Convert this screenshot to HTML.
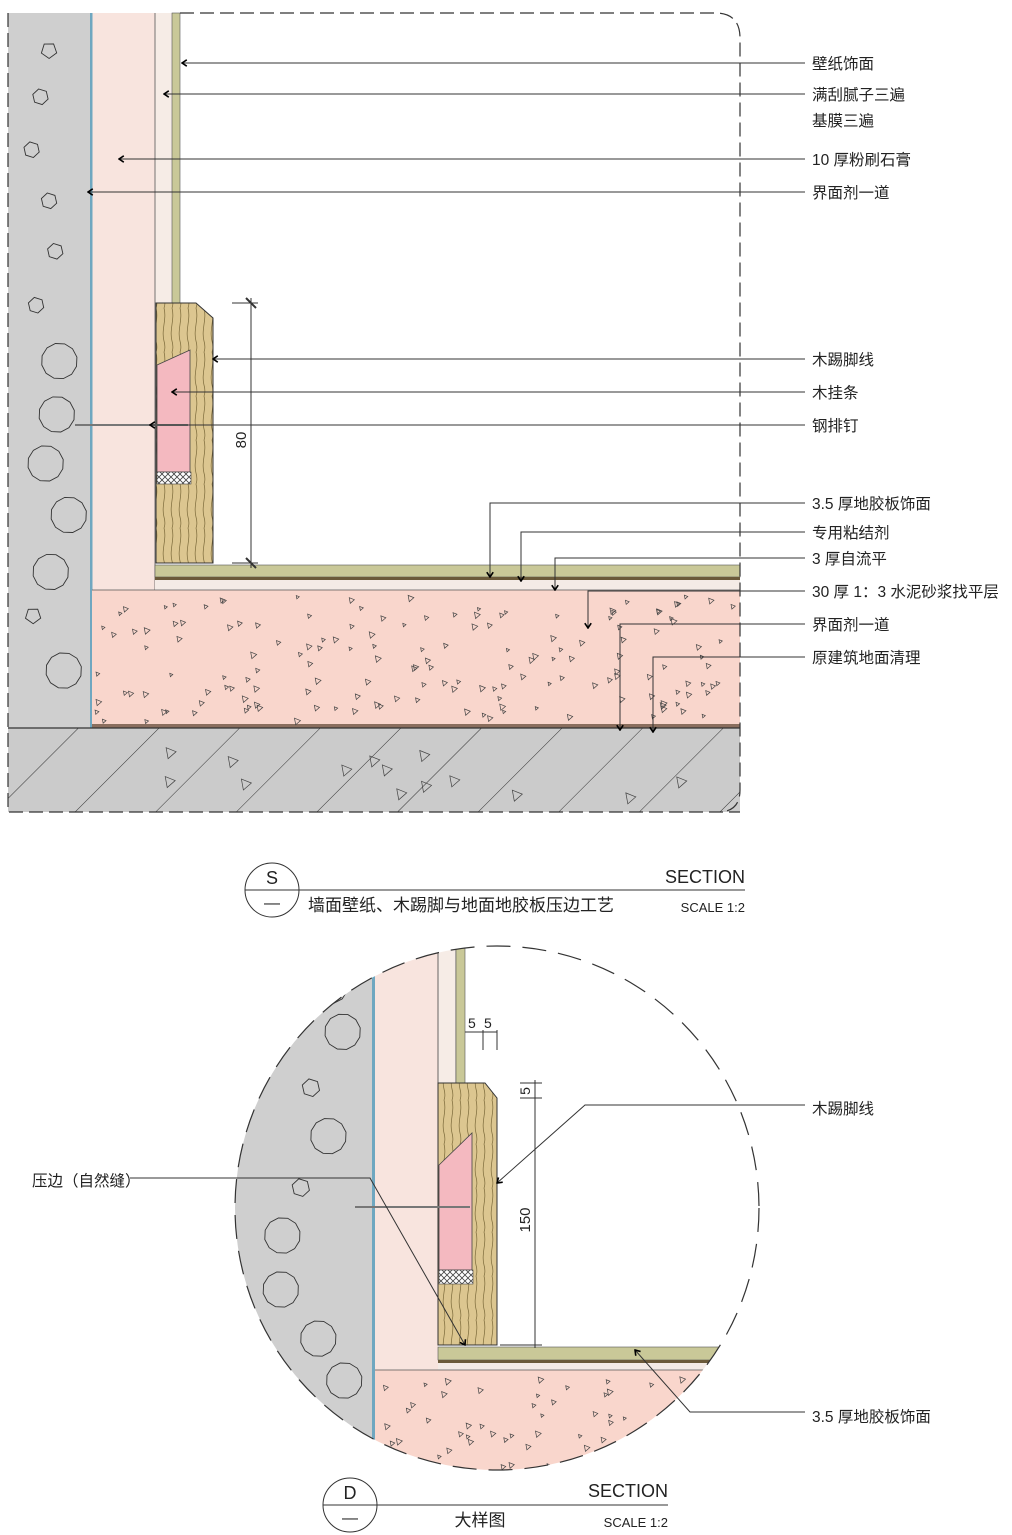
<!DOCTYPE html>
<html><head><meta charset="utf-8"><style>
html,body{margin:0;padding:0;background:#fff}
svg{display:block}
text{font-family:"Liberation Sans","Noto Sans CJK SC",sans-serif;fill:#222}
</style></head><body>
<svg id="s" width="1012" height="1535" viewBox="0 0 1012 1535" xmlns="http://www.w3.org/2000/svg">
<defs>
<pattern id="hatch" width="57" height="57" patternUnits="userSpaceOnUse" patternTransform="rotate(45)">
<rect width="57" height="57" fill="#cbcbcb"/><line x1="0" y1="0" x2="0" y2="57" stroke="#333" stroke-width="1"/></pattern>
<pattern id="wood" width="16" height="44" patternUnits="userSpaceOnUse">
<rect width="16" height="44" fill="#dcc690"/>
<path d="M4 0 C7 11 1 22 4 33 C6 40 4 44 4 44 M12 0 C15 11 9 22 12 33 C14 40 12 44 12 44" stroke="#7a6838" stroke-width="0.7" fill="none"/></pattern>
<pattern id="xh" width="6" height="6" patternUnits="userSpaceOnUse">
<rect width="6" height="6" fill="#fff"/><path d="M0 0L6 6M6 0L0 6" stroke="#444" stroke-width="0.8"/></pattern>
<clipPath id="cc"><circle cx="497" cy="1208" r="262"/></clipPath>
<marker id="ar" viewBox="0 0 10 10" refX="9" refY="5" markerWidth="8" markerHeight="8" orient="auto" markerUnits="userSpaceOnUse"><path d="M3 1L9 5L3 9" stroke="#000" stroke-width="2" fill="none"/></marker>
</defs>

<g id="top">
<rect x="8" y="13" width="82" height="715" fill="#cfcfcf"/>
<rect x="8" y="728" width="732" height="84" fill="url(#hatch)"/>
<rect x="92" y="13" width="63" height="577" fill="#f8e4de"/>
<rect x="155" y="13" width="17" height="290" fill="#f6ece6"/>
<rect x="172" y="13" width="8" height="290" fill="#c9c898" stroke="#555" stroke-width="0.6"/>
<line x1="155" y1="13" x2="155" y2="590" stroke="#555" stroke-width="0.8"/>
<rect x="90" y="13" width="2.5" height="715" fill="#6fa7c0"/>
<path d="M156 303 L196 303 L213 318 L213 563 L156 563Z" fill="url(#wood)" stroke="#333" stroke-width="1"/>
<path d="M157 365 L190 350 L190 472 L157 472Z" fill="#f4b9c0" stroke="#444" stroke-width="0.8"/>
<rect x="157" y="472" width="34" height="12" fill="url(#xh)" stroke="#444" stroke-width="0.6"/>
<line x1="75" y1="425" x2="188" y2="425" stroke="#777" stroke-width="2"/>
<rect x="155" y="565" width="585" height="12" fill="#c9c898" stroke="#555" stroke-width="0.6"/>
<rect x="155" y="577" width="585" height="3" fill="#6b5a3a"/>
<rect x="155" y="580" width="585" height="10" fill="#f4ebe6"/>
<rect x="92" y="590" width="648" height="134" fill="#f9d6cc"/>
<line x1="92" y1="590" x2="740" y2="590" stroke="#555" stroke-width="0.8"/>
<rect x="92" y="724" width="648" height="4" fill="#8a6e5e"/>
<line x1="8" y1="728" x2="740" y2="728" stroke="#333" stroke-width="1.2"/>
<g id="agg1"></g>
<path d="M8 13 L8 812 L740 812 M180 13 L715 13 Q740 13 740 38 L740 790 Q740 812 718 812" fill="none" stroke="#333" stroke-width="1.2" stroke-dasharray="14 6"/>
<g stroke="#333" stroke-width="1"><line x1="251" y1="298" x2="251" y2="568"/><line x1="232" y1="303" x2="258" y2="303"/><line x1="232" y1="563" x2="258" y2="563"/>
<line x1="246" y1="298" x2="256" y2="308" stroke-width="2"/><line x1="246" y1="558" x2="256" y2="568" stroke-width="2"/></g>
<text x="0" y="0" font-size="15" transform="translate(246,440) rotate(-90)" text-anchor="middle">80</text>
<g stroke="#333" stroke-width="1" fill="none" marker-end="url(#ar)">
<path d="M805 63 H182"/><path d="M805 94 H164"/><path d="M805 159 H119"/><path d="M805 192 H88"/>
<path d="M805 359 H213"/><path d="M805 392 H172"/><path d="M805 425 H150"/>
<path d="M805 503 H490 V577"/><path d="M805 532 H521 V581"/><path d="M805 558 H555 V590"/>
<path d="M805 591 H588 V628"/><path d="M805 624 H620 V730"/><path d="M805 657 H653 V732"/>
</g>
<g font-size="15.5">
<text x="812" y="69">壁纸饰面</text><text x="812" y="100">满刮腻子三遍</text><text x="812" y="126">基膜三遍</text>
<text x="812" y="165">10 厚粉刷石膏</text><text x="812" y="198">界面剂一道</text>
<text x="812" y="365">木踢脚线</text><text x="812" y="398">木挂条</text><text x="812" y="431">钢排钉</text>
<text x="812" y="509">3.5 厚地胶板饰面</text><text x="812" y="538">专用粘结剂</text><text x="812" y="564">3 厚自流平</text>
<text x="812" y="597">30 厚 1：3 水泥砂浆找平层</text><text x="812" y="630">界面剂一道</text><text x="812" y="663">原建筑地面清理</text>
</g>
</g>

<circle cx="272" cy="890" r="27" fill="none" stroke="#333" stroke-width="1"/>
<line x1="245" y1="890" x2="745" y2="890" stroke="#333" stroke-width="1"/>
<text x="272" y="884" font-size="18" text-anchor="middle">S</text>
<text x="272" y="908" font-size="16" text-anchor="middle">—</text>
<text x="745" y="883" font-size="18" text-anchor="end">SECTION</text>
<text x="308" y="911" font-size="17">墙面壁纸、木踢脚与地面地胶板压边工艺</text>
<text x="745" y="912" font-size="13" text-anchor="end">SCALE 1:2</text>

<g clip-path="url(#cc)">
<rect x="200" y="940" width="172" height="540" fill="#cfcfcf"/>
<rect x="375" y="940" width="63" height="440" fill="#f8e4de"/>
<rect x="438" y="940" width="18" height="143" fill="#f6ece6" stroke="#444" stroke-width="0.8"/>
<rect x="456" y="940" width="9" height="143" fill="#c9c898" stroke="#555" stroke-width="0.6"/>
<rect x="438" y="1347" width="300" height="13" fill="#c9c898" stroke="#555" stroke-width="0.6"/>
<rect x="438" y="1360" width="300" height="3" fill="#6b5a3a"/>
<rect x="438" y="1363" width="300" height="7" fill="#f4ebe6"/>
<rect x="375" y="1370" width="400" height="120" fill="#f9d6cc"/>
<line x1="375" y1="1370" x2="760" y2="1370" stroke="#555" stroke-width="0.8"/>
<rect x="372" y="940" width="3" height="540" fill="#6fa7c0"/>
<g id="agg2"></g>
</g>
<path d="M438 1083 L485 1083 L497 1098 L497 1345 L438 1345Z" fill="url(#wood)" stroke="#333" stroke-width="1"/>
<path d="M439 1165 L472 1133 L472 1270 L439 1270Z" fill="#f4b9c0" stroke="#444" stroke-width="0.8"/>
<rect x="439" y="1270" width="34" height="14" fill="url(#xh)" stroke="#444" stroke-width="0.6"/>
<line x1="355" y1="1207" x2="470" y2="1207" stroke="#777" stroke-width="2"/>
<circle cx="497" cy="1208" r="262" fill="none" stroke="#333" stroke-width="1.2" stroke-dasharray="24 12"/>
<g stroke="#333" stroke-width="1"><line x1="535" y1="1080" x2="535" y2="1348"/><line x1="500" y1="1345" x2="542" y2="1345"/><line x1="520" y1="1098" x2="542" y2="1098"/><line x1="520" y1="1083" x2="542" y2="1083"/>
<line x1="465" y1="1032" x2="497" y2="1032"/><line x1="483" y1="1030" x2="483" y2="1050"/><line x1="497" y1="1030" x2="497" y2="1050"/></g>
<text x="0" y="0" font-size="15" transform="translate(530,1220) rotate(-90)" text-anchor="middle">150</text>
<text x="0" y="0" font-size="14" transform="translate(530,1091) rotate(-90)" text-anchor="middle">5</text>
<text x="468" y="1028" font-size="14">5</text><text x="484" y="1028" font-size="14">5</text>
<g stroke="#333" stroke-width="1" fill="none" marker-end="url(#ar)">
<path d="M805 1105 H585 L497 1183"/><path d="M130 1178 H370 L465 1345"/><path d="M805 1412 H690 L635 1350"/>
</g>
<text x="812" y="1114" font-size="15.5">木踢脚线</text>
<text x="32" y="1186" font-size="15.5">压边（自然缝）</text>
<text x="812" y="1422" font-size="15.5">3.5 厚地胶板饰面</text>

<circle cx="350" cy="1505" r="27" fill="none" stroke="#333" stroke-width="1"/>
<line x1="323" y1="1505" x2="668" y2="1505" stroke="#333" stroke-width="1"/>
<text x="350" y="1499" font-size="18" text-anchor="middle">D</text>
<text x="350" y="1523" font-size="16" text-anchor="middle">—</text>
<text x="668" y="1497" font-size="18" text-anchor="end">SECTION</text>
<text x="480" y="1526" font-size="17" text-anchor="middle">大样图</text>
<text x="668" y="1527" font-size="13" text-anchor="end">SCALE 1:2</text>
</svg>
<script>
(function(){
var ns="http://www.w3.org/2000/svg",seed=7;
function r(){seed=(seed*16807)%2147483647;return seed/2147483647;}
function tri(g,x,y,s){var p=document.createElementNS(ns,"path");p.setAttribute("d","M"+x+" "+y+"l"+s+" "+(s*0.4)+"l"+(-s*0.8)+" "+(s*0.7)+"z");p.setAttribute("fill","none");p.setAttribute("stroke","#444");p.setAttribute("stroke-width","0.7");g.appendChild(p);}
function poly(g,x,y,rr,n){var d="";for(var k=0;k<n;k++){var a=k*2*Math.PI/n+0.3;d+=(k?"L":"M")+(x+rr*Math.cos(a)).toFixed(1)+" "+(y+rr*Math.sin(a)).toFixed(1);}
var p=document.createElementNS(ns,"path");p.setAttribute("d",d+"Z");p.setAttribute("fill","none");p.setAttribute("stroke","#333");p.setAttribute("stroke-width","0.9");g.appendChild(p);}
var g1=document.getElementById("agg1");
for(var i=0;i<160;i++)tri(g1,95+r()*640,595+r()*125,3+r()*3);
for(var i=0;i<14;i++)tri(g1,20+r()*700,740+r()*65,10);
for(var y=40;y<710;y+=52){var big=r()>0.5;poly(g1,(big?42:30)+r()*30,y+r()*12,big?18:8,big?12:(r()>0.5?5:6));}
var g2=document.getElementById("agg2");
for(var i=0;i<60;i++)tri(g2,380+r()*360,1375+r()*90,3+r()*3);
for(var y=980;y<1450;y+=50){var big=r()>0.5;poly(g2,280+r()*70,y+r()*10,big?18:9,big?12:6);}
})();
</script>
</body></html>
